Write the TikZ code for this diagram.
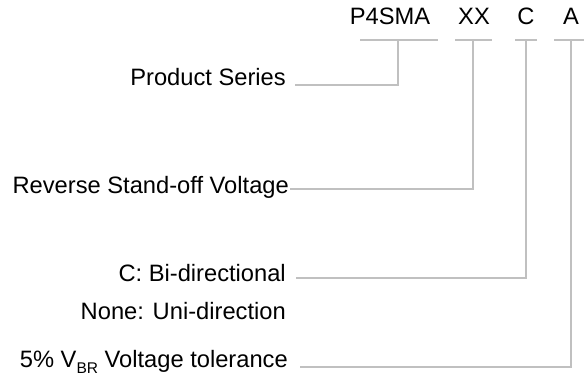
\documentclass[tikz,border=0pt]{standalone}
\usepackage{fontspec}
\setmainfont{Liberation Sans}
\definecolor{linegray}{RGB}{192,192,192}
\begin{document}
\begin{tikzpicture}[x=1pt,y=-1pt,
  lbl/.style={font=\fontsize{23.7}{28}\selectfont, inner sep=0pt, text=black},
  conn/.style={draw=linegray, line width=1.5pt}]
\useasboundingbox (0,0) rectangle (584,379);
% code letters
\node[lbl, anchor=base] (p4) at (390,25) {P4SMA};
\node[lbl, anchor=base] (xx) at (474,25) {XX};
\node[lbl, anchor=base] (cc) at (526,25) {C};
\node[lbl, anchor=base] (aa) at (571,25) {A};
% underline coordinates
\coordinate (p4l) at (360,40); \coordinate (p4r) at (438,40); \coordinate (p4u) at (398,40);
\coordinate (xxl) at (455,40); \coordinate (xxr) at (492,40); \coordinate (xxu) at (473,40);
\coordinate (ccl) at (515,40); \coordinate (ccr) at (537,40); \coordinate (ccu) at (526,40);
\coordinate (aal) at (554,40); \coordinate (aar) at (584,40); \coordinate (aau) at (571,40);
\draw[conn] (p4l) -- (p4r);
\draw[conn] (xxl) -- (xxr);
\draw[conn] (ccl) -- (ccr);
\draw[conn] (aal) -- (aar);
% descriptions
\node[lbl, anchor=base east] (ps) at (286,86) {Product Series};
\node[lbl, anchor=base east] (rs) at (289,194) {Reverse Stand-off Voltage};
\node[lbl, anchor=base east] (bi) at (286,282) {C: Bi-directional};
\node[lbl, anchor=base east] (un) at (286,320) {None: Uni-direction};
\node[lbl, anchor=base east] (vt) at (288,368) {5\% V\raisebox{-0.22em}{\fontsize{15.5}{16}\selectfont BR} Voltage tolerance};
% connectors
\draw[conn] ([shift={(9,-1)}]ps.base east) -| (p4u);
\draw[conn] ([shift={(1,-5)}]rs.base east) -| (xxu);
\draw[conn] ([shift={(10,-4)}]bi.base east) -| (ccu);
\draw[conn] ([shift={(12,-1)}]vt.base east) -| (aau);
\end{tikzpicture}
\end{document}
